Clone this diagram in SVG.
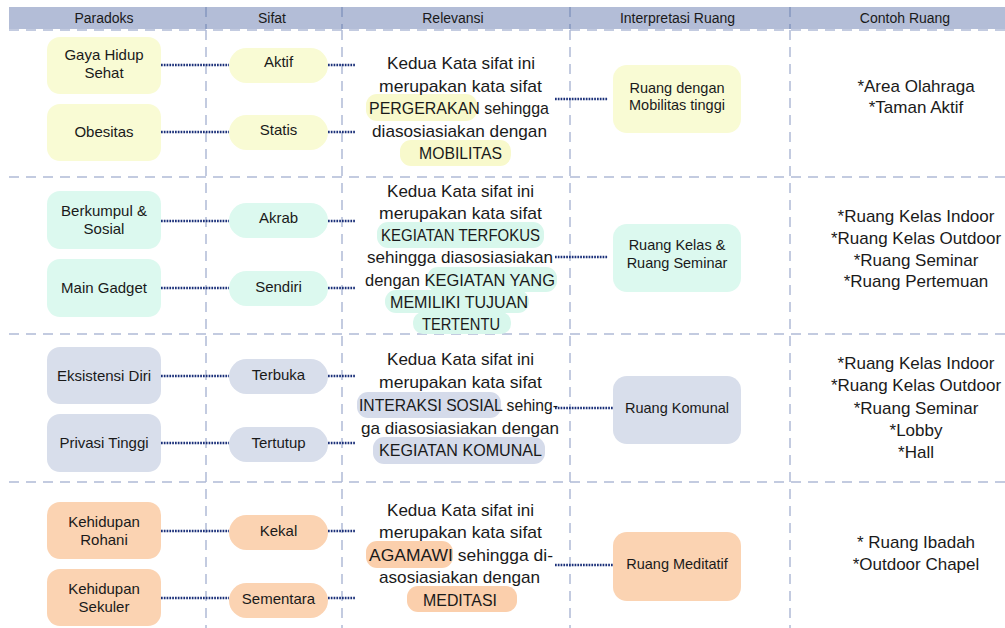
<svg xmlns="http://www.w3.org/2000/svg" width="1005" height="628" viewBox="0 0 1005 628">
<style>
text{font-family:"Liberation Sans",Arial,sans-serif;fill:#1a1a1a}
.hd{font-size:14px;text-anchor:middle}
.pn{font-size:15px;text-anchor:middle}
.sn{font-size:15px;text-anchor:middle}
.in{font-size:14.5px;text-anchor:middle}
.rv{font-size:17px}
.ct{font-size:17px;text-anchor:middle}
.grid{stroke:#b0bbd6;stroke-width:1.5;stroke-dasharray:10 7;fill:none}
.hsep{stroke:#8597c0;stroke-width:1.5;stroke-dasharray:10 7;fill:none}
.conn{stroke:#1b3079;stroke-width:2.4;stroke-dasharray:1.7 1.1;fill:none}
.y{fill:#f9fbd4}.m{fill:#dcf9ef}.b{fill:#d8deeb}.p{fill:#fbd3b2}
.yh{fill:#f8f9cc}.mh{fill:#d8f7ec}.bh{fill:#d5dbea}.ph{fill:#fbcfac}
</style>
<rect width="1005" height="628" fill="#ffffff"/>
<g id="grid">
<rect x="9" y="7" width="996" height="22" fill="#b3bdd7"/>
<line class="hsep" x1="206" y1="7" x2="206" y2="29"/>
<line class="hsep" x1="342" y1="7" x2="342" y2="29"/>
<line class="hsep" x1="570" y1="7" x2="570" y2="29"/>
<line class="hsep" x1="790" y1="7" x2="790" y2="29"/>
<line class="grid" x1="206" y1="30" x2="206" y2="628"/>
<line class="grid" x1="342" y1="30" x2="342" y2="628"/>
<line class="grid" x1="570" y1="30" x2="570" y2="628"/>
<line class="grid" x1="790" y1="30" x2="790" y2="628"/>
<line class="grid" x1="9" y1="30" x2="1005" y2="30"/>
<line class="grid" x1="9" y1="177" x2="1005" y2="177"/>
<line class="grid" x1="9" y1="334" x2="1005" y2="334"/>
<line class="grid" x1="9" y1="482" x2="1005" y2="482"/>
</g>
<g id="header">
<text class="hd" x="104" y="23">Paradoks</text>
<text class="hd" x="272" y="23">Sifat</text>
<text class="hd" x="453" y="23">Relevansi</text>
<text class="hd" x="677.5" y="23">Interpretasi Ruang</text>
<text class="hd" x="905" y="23">Contoh Ruang</text>
</g>
<g id="connectors">
<line class="conn" x1="161" y1="65" x2="229" y2="65"/>
<line class="conn" x1="328" y1="65" x2="355" y2="65"/>
<line class="conn" x1="161" y1="132" x2="229" y2="132"/>
<line class="conn" x1="328" y1="132" x2="355" y2="132"/>
<line class="conn" x1="555" y1="99" x2="608" y2="99"/>
<line class="conn" x1="161" y1="221" x2="229" y2="221"/>
<line class="conn" x1="328" y1="221" x2="355" y2="221"/>
<line class="conn" x1="161" y1="288" x2="229" y2="288"/>
<line class="conn" x1="328" y1="288" x2="355" y2="288"/>
<line class="conn" x1="555" y1="257" x2="608" y2="257"/>
<line class="conn" x1="161" y1="376" x2="229" y2="376"/>
<line class="conn" x1="328" y1="376" x2="355" y2="376"/>
<line class="conn" x1="161" y1="443" x2="229" y2="443"/>
<line class="conn" x1="328" y1="443" x2="355" y2="443"/>
<line class="conn" x1="555" y1="408" x2="613" y2="408"/>
<line class="conn" x1="161" y1="531" x2="229" y2="531"/>
<line class="conn" x1="328" y1="531" x2="355" y2="531"/>
<line class="conn" x1="161" y1="598" x2="229" y2="598"/>
<line class="conn" x1="328" y1="598" x2="355" y2="598"/>
<line class="conn" x1="555" y1="565" x2="613" y2="565"/>
</g>
<!-- Row 1 -->
<g id="p-gaya-hidup"><rect class="y" x="47" y="37" width="114" height="57" rx="13"/><text class="pn" x="104" y="60">Gaya Hidup</text><text class="pn" x="104" y="78">Sehat</text></g>
<g id="p-obesitas"><rect class="y" x="47" y="104" width="114" height="57" rx="13"/><text class="pn" x="104" y="137">Obesitas</text></g>
<g id="s-aktif"><rect class="y" x="229" y="48" width="99" height="35" rx="17.5"/><text class="sn" x="278.5" y="67">Aktif</text></g>
<g id="s-statis"><rect class="y" x="229" y="115" width="99" height="35" rx="17.5"/><text class="sn" x="278.5" y="135">Statis</text></g>
<g id="r-1">
<rect class="yh" x="366" y="94" width="111" height="27" rx="11"/>
<rect class="yh" x="400" y="140" width="111" height="26" rx="11"/>
<text class="rv" x="387" y="69" textLength="148" lengthAdjust="spacingAndGlyphs">Kedua Kata sifat ini</text>
<text class="rv" x="379" y="91.5" textLength="163" lengthAdjust="spacingAndGlyphs">merupakan kata sifat</text>
<text class="rv" x="369" y="114" textLength="180" lengthAdjust="spacingAndGlyphs">PERGERAKAN sehingga</text>
<text class="rv" x="372" y="136.5" textLength="175" lengthAdjust="spacingAndGlyphs">diasosiasiakan dengan</text>
<text class="rv" x="419" y="159" textLength="83" lengthAdjust="spacingAndGlyphs">MOBILITAS</text>
</g>
<g id="i-mobilitas"><rect class="y" x="613" y="65" width="128" height="68" rx="14"/><text class="in" x="677" y="93">Ruang dengan</text><text class="in" x="677" y="110">Mobilitas tinggi</text></g>
<g id="c-1"><text class="ct" x="916" y="91.5">*Area Olahraga</text><text class="ct" x="916" y="113">*Taman Aktif</text></g>
<!-- Row 2 -->
<g id="p-berkumpul"><rect class="m" x="47" y="191" width="114" height="58" rx="13"/><text class="pn" x="104" y="216">Berkumpul &amp;</text><text class="pn" x="104" y="234">Sosial</text></g>
<g id="p-main-gadget"><rect class="m" x="47" y="259" width="114" height="58" rx="13"/><text class="pn" x="104" y="293">Main Gadget</text></g>
<g id="s-akrab"><rect class="m" x="229" y="203" width="99" height="35" rx="17.5"/><text class="sn" x="278.5" y="223">Akrab</text></g>
<g id="s-sendiri"><rect class="m" x="229" y="271" width="99" height="35" rx="17.5"/><text class="sn" x="278.5" y="292">Sendiri</text></g>
<g id="r-2">
<rect class="mh" x="377" y="222" width="167" height="26" rx="11"/>
<rect class="mh" x="427" y="267" width="130" height="25" rx="11"/>
<rect class="mh" x="385" y="290" width="144" height="23" rx="11"/>
<rect class="mh" x="413" y="312" width="98" height="22" rx="10"/>
<text class="rv" x="387" y="196.5" textLength="147" lengthAdjust="spacingAndGlyphs">Kedua Kata sifat ini</text>
<text class="rv" x="379" y="218.5" textLength="163" lengthAdjust="spacingAndGlyphs">merupakan kata sifat</text>
<text class="rv" x="381" y="241" textLength="159" lengthAdjust="spacingAndGlyphs">KEGIATAN TERFOKUS</text>
<text class="rv" x="367" y="263" textLength="186" lengthAdjust="spacingAndGlyphs">sehingga diasosiasiakan</text>
<text class="rv" x="365" y="285.5" textLength="190" lengthAdjust="spacingAndGlyphs">dengan KEGIATAN YANG</text>
<text class="rv" x="390" y="307.5" textLength="138" lengthAdjust="spacingAndGlyphs">MEMILIKI TUJUAN</text>
<text class="rv" x="422" y="329.5" textLength="78" lengthAdjust="spacingAndGlyphs">TERTENTU</text>
</g>
<g id="i-kelas-seminar"><rect class="m" x="613" y="224" width="128" height="68" rx="14"/><text class="in" x="677" y="250">Ruang Kelas &amp;</text><text class="in" x="677" y="268">Ruang Seminar</text></g>
<g id="c-2"><text class="ct" x="916" y="221.5">*Ruang Kelas Indoor</text><text class="ct" x="916" y="243.5">*Ruang Kelas Outdoor</text><text class="ct" x="916" y="265.5">*Ruang Seminar</text><text class="ct" x="916" y="287">*Ruang Pertemuan</text></g>
<!-- Row 3 -->
<g id="p-eksistensi"><rect class="b" x="47" y="347" width="114" height="57" rx="13"/><text class="pn" x="104" y="381">Eksistensi Diri</text></g>
<g id="p-privasi"><rect class="b" x="47" y="414" width="114" height="58" rx="13"/><text class="pn" x="104" y="448">Privasi Tinggi</text></g>
<g id="s-terbuka"><rect class="b" x="229" y="359" width="99" height="35" rx="17.5"/><text class="sn" x="278.5" y="380">Terbuka</text></g>
<g id="s-tertutup"><rect class="b" x="229" y="427" width="99" height="35" rx="17.5"/><text class="sn" x="278.5" y="448">Tertutup</text></g>
<g id="r-3">
<rect class="bh" x="357" y="392" width="144" height="26" rx="11"/>
<rect class="bh" x="373" y="437" width="172" height="27" rx="11"/>
<text class="rv" x="387" y="365" textLength="147" lengthAdjust="spacingAndGlyphs">Kedua Kata sifat ini</text>
<text class="rv" x="379" y="388" textLength="163" lengthAdjust="spacingAndGlyphs">merupakan kata sifat</text>
<text class="rv" x="359" y="411" textLength="199" lengthAdjust="spacingAndGlyphs">INTERAKSI SOSIAL sehing-</text>
<text class="rv" x="361" y="433.5" textLength="198" lengthAdjust="spacingAndGlyphs">ga diasosiasiakan dengan</text>
<text class="rv" x="379" y="456" textLength="163" lengthAdjust="spacingAndGlyphs">KEGIATAN KOMUNAL</text>
</g>
<g id="i-komunal"><rect class="b" x="613" y="376" width="128" height="68" rx="14"/><text class="in" x="677" y="413">Ruang Komunal</text></g>
<g id="c-3"><text class="ct" x="916" y="368.5">*Ruang Kelas Indoor</text><text class="ct" x="916" y="391">*Ruang Kelas Outdoor</text><text class="ct" x="916" y="413.5">*Ruang Seminar</text><text class="ct" x="916" y="436">*Lobby</text><text class="ct" x="916" y="458">*Hall</text></g>
<!-- Row 4 -->
<g id="p-rohani"><rect class="p" x="47" y="502" width="114" height="57" rx="13"/><text class="pn" x="104" y="527">Kehidupan</text><text class="pn" x="104" y="545">Rohani</text></g>
<g id="p-sekuler"><rect class="p" x="47" y="569" width="114" height="57" rx="13"/><text class="pn" x="104" y="594">Kehidupan</text><text class="pn" x="104" y="612">Sekuler</text></g>
<g id="s-kekal"><rect class="p" x="229" y="515" width="99" height="35" rx="17.5"/><text class="sn" x="278.5" y="536">Kekal</text></g>
<g id="s-sementara"><rect class="p" x="229" y="583" width="99" height="35" rx="17.5"/><text class="sn" x="278.5" y="603.5">Sementara</text></g>
<g id="r-4">
<rect class="ph" x="366" y="541" width="87" height="27" rx="11"/>
<rect class="ph" x="407" y="586" width="110" height="26" rx="11"/>
<text class="rv" x="387" y="515.5" textLength="147" lengthAdjust="spacingAndGlyphs">Kedua Kata sifat ini</text>
<text class="rv" x="379" y="538" textLength="163" lengthAdjust="spacingAndGlyphs">merupakan kata sifat</text>
<text class="rv" x="369" y="560.5" textLength="184" lengthAdjust="spacingAndGlyphs">AGAMAWI sehingga di-</text>
<text class="rv" x="379" y="583" textLength="161" lengthAdjust="spacingAndGlyphs">asosiasiakan dengan</text>
<text class="rv" x="423" y="605.5" textLength="74" lengthAdjust="spacingAndGlyphs">MEDITASI</text>
</g>
<g id="i-meditatif"><rect class="p" x="613" y="532" width="128" height="69" rx="14"/><text class="in" x="677" y="569">Ruang Meditatif</text></g>
<g id="c-4"><text class="ct" x="916" y="548">* Ruang Ibadah</text><text class="ct" x="916" y="570">*Outdoor Chapel</text></g>
</svg>
